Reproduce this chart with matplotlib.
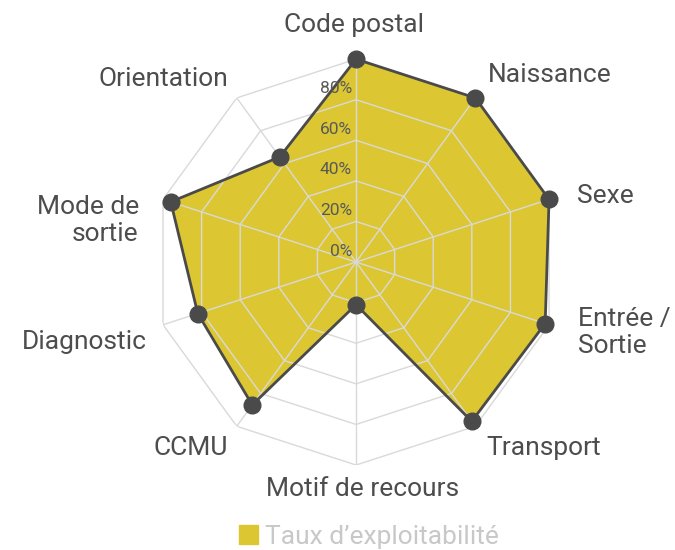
import matplotlib

matplotlib.use('Agg')
import numpy as np
import matplotlib.pyplot as plt
from matplotlib.patches import Patch

categories = ['Code postal', 'Naissance', 'Sexe', 'Entrée /\nSortie', 'Transport',
              'Motif de recours', 'CCMU', 'Diagnostic', 'Mode de\nsortie', 'Orientation']
values = [100, 100, 100, 98, 97, 21, 87, 82, 96, 64]
rings = [20, 40, 60, 80, 100]
ring_labels = ['0%', '20%', '40%', '60%', '80%']
series_name = 'Taux d’exploitabilité'

# nudges (pixels) so the labels sit where the original put them
label_nudge = [(-2, 10), (-2, 3), (5, -4), (6, 0), (-3, -2),
               (7, 0), (6, -2), (7, -10), (-1, -29), (6, -1)]

fill_color = '#dcc733'
line_color = '#4a4a4a'
grid_color = '#d9d9d9'
text_color = '#4d4d4d'

plt.rcParams['font.family'] = ['Roboto', 'DejaVu Sans']

fig = plt.figure(figsize=(6.75, 5.5), dpi=100)
ax = fig.add_axes([0.2267, 0.1545, 0.6015, 0.738], projection='polar')
ax.set_theta_zero_location('N')
ax.set_theta_direction(-1)
ax.set_ylim(0, 100)
ax.grid(False)
ax.spines['polar'].set_visible(False)
ax.set_xticks([])
ax.set_yticks([])
ax.patch.set_alpha(0)

n = len(categories)
angles = np.linspace(0, 2 * np.pi, n, endpoint=False)
closed = np.append(angles, angles[0])

# polygon grid on top of the fill
for r in rings:
    ax.plot(closed, [r] * (n + 1), color=grid_color, lw=1, zorder=3)
for a in angles:
    ax.plot([a, a], [0, 100], color=grid_color, lw=1, zorder=3)

vals = np.append(values, values[0])
ax.fill(closed, vals, color=fill_color, zorder=2, lw=0)
ax.plot(closed, vals, color=line_color, lw=2, zorder=4)
ax.plot(angles, values, 'o', color=line_color, ms=12, zorder=5, clip_on=False)

# radial labels
for r, lab in zip([0] + rings[:-1], ring_labels):
    ax.annotate(lab, (0, r), xytext=(-4, 11), textcoords='offset pixels',
                ha='right', va='center', fontsize=12.5, color='#595959', zorder=6)

# category labels
for a, lab, nudge in zip(angles, categories, label_nudge):
    s = np.sin(a)
    if s > 0.1:
        ha = 'left'
    elif s < -0.1:
        ha = 'right'
    else:
        ha = 'center'
    ax.annotate(lab, (a, 112), xytext=nudge, textcoords='offset pixels',
                ha=ha, va='center', fontsize=19, color=text_color,
                multialignment=ha if ha != 'center' else 'center', linespacing=1.15,
                annotation_clip=False)

leg = fig.legend(handles=[Patch(color=fill_color, label=series_name)],
                 loc='center', bbox_to_anchor=(0.547, 0.024), frameon=False,
                 fontsize=19, handlelength=0.7, handleheight=0.7, handletextpad=0.3)
for t in leg.get_texts():
    t.set_color('#c8c8c8')

fig.savefig('out.png', dpi=100)
